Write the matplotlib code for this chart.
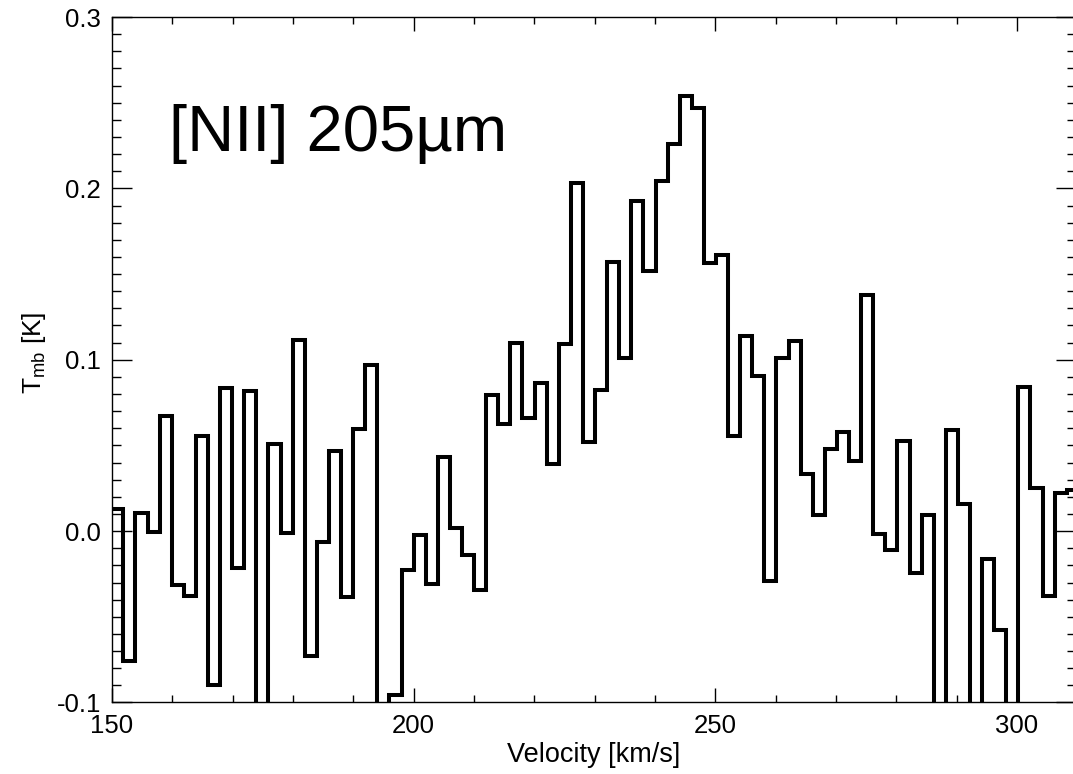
"""[NII] 205um spectrum: main-beam temperature vs velocity."""

import matplotlib

matplotlib.use("Agg")
import matplotlib.pyplot as plt
import numpy as np
from matplotlib.ticker import FormatStrFormatter, MultipleLocator

plt.rcParams["font.family"] = ["Liberation Sans", "DejaVu Sans"]
plt.rcParams["axes.unicode_minus"] = False

# channel grid (km/s)
V_FIRST_EDGE = 149.87
CHANNEL_WIDTH = 2.005

# T_mb per channel [K]; -0.14 marks channels that dip below the plotted range
tmb = [
    0.013, -0.076, 0.0105, -0.0004, 0.067, -0.0315, -0.038, 0.0556, -0.090, 0.0836,
    -0.0218, 0.0819, -0.14, 0.0508, -0.001, 0.1118, -0.0727, -0.0066, 0.0467, -0.0387,
    0.0595, 0.0969, -0.14, -0.0957, -0.0224, -0.0023, -0.031, 0.0434, 0.0019, -0.014,
    -0.0344, 0.0793, 0.0624, 0.1099, 0.0663, 0.0862, 0.039, 0.1091, 0.2032, 0.0521,
    0.0823, 0.1571, 0.1008, 0.1927, 0.1517, 0.2042, 0.2258, 0.254, 0.247, 0.1565,
    0.1614, 0.0554, 0.1138, 0.0906, -0.0292, 0.1013, 0.111, 0.0333, 0.0093, 0.0478,
    0.0576, 0.041, 0.138, -0.0019, -0.0111, 0.0527, -0.0243, 0.0093, -0.14, 0.0589,
    0.016, -0.14, -0.0163, -0.0578, -0.14, 0.0842, 0.025, -0.0377, 0.022, 0.024,
]

LINE_LABEL = "[NII] 205µm"
X_LABEL = "Velocity [km/s]"
Y_LABEL = r"$\mathregular{T_{mb}}$ [K]"


def main() -> None:
    values = np.asarray(tmb, dtype=float)
    edges = V_FIRST_EDGE + CHANNEL_WIDTH * np.arange(len(values) + 1)

    fig = plt.figure(figsize=(10.73, 7.74), dpi=100)
    ax = fig.add_axes([0.1044, 0.0924, 0.8984, 0.8856])

    step = ax.stairs(values, edges, baseline=None, color="black", lw=2.9)
    step.set_joinstyle("miter")

    ax.set_xlim(150, 309.8)
    ax.set_ylim(-0.1, 0.3)

    ax.xaxis.set_major_locator(MultipleLocator(50))
    ax.xaxis.set_minor_locator(MultipleLocator(10))
    ax.yaxis.set_major_locator(MultipleLocator(0.1))
    ax.yaxis.set_minor_locator(MultipleLocator(0.01))
    ax.yaxis.set_major_formatter(FormatStrFormatter("%.1f"))

    ax.tick_params(axis="both", which="both", direction="in", top=True, right=True,
                   labelsize=18.5, color="black")
    ax.tick_params(axis="x", which="major", length=10, width=1.0, pad=8)
    ax.tick_params(axis="x", which="minor", length=5, width=1.0)
    ax.tick_params(axis="y", which="major", length=14.5, width=1.0, pad=8)
    ax.tick_params(axis="y", which="minor", length=6.5, width=1.0)
    for spine in ax.spines.values():
        spine.set_linewidth(1.0)

    ax.set_xlabel(X_LABEL, fontsize=19.5)
    ax.xaxis.set_label_coords(0.5, -0.057)
    ax.set_ylabel(Y_LABEL, fontsize=19)
    ax.yaxis.set_label_coords(-0.066, 0.51)

    ax.text(159.4, 0.222, LINE_LABEL, fontsize=47, va="baseline", ha="left")

    fig.savefig("out.png", dpi=100)


if __name__ == "__main__":
    main()
